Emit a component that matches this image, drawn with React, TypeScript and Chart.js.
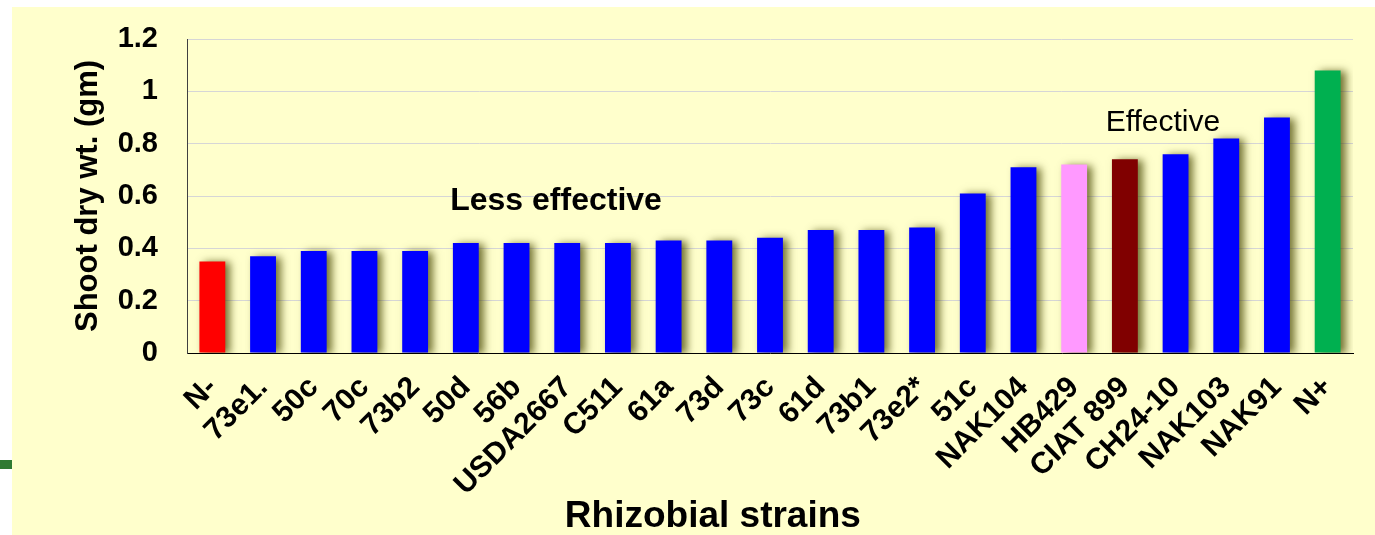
import React, { useEffect, useRef } from "react";
import { Chart, registerables } from "chart.js";

Chart.register(...registerables);

const categories = [
  "N-", "73e1.", "50c", "70c", "73b2", "50d", "56b", "USDA2667", "C511", "61a", "73d", "73c",
  "61d", "73b1", "73e2*", "51c", "NAK104", "HB429", "CIAT 899", "CH24-10", "NAK103", "NAK91", "N+",
];
const shootDryWt = [
  0.35, 0.37, 0.39, 0.39, 0.39, 0.42, 0.42, 0.42, 0.42, 0.43, 0.43, 0.44,
  0.47, 0.47, 0.48, 0.61, 0.71, 0.72, 0.74, 0.76, 0.82, 0.9, 1.08,
];
const RED = "#FF0000";
const BLUE = "#0000FF";
const PINK = "#FF99FF";
const MAROON = "#800000";
const GREEN = "#00B050";
const barColors = [
  RED, BLUE, BLUE, BLUE, BLUE, BLUE, BLUE, BLUE, BLUE, BLUE, BLUE, BLUE,
  BLUE, BLUE, BLUE, BLUE, BLUE, PINK, MAROON, BLUE, BLUE, BLUE, GREEN,
];
const yTicks = [0, 0.2, 0.4, 0.6, 0.8, 1, 1.2];
const yTitle = "Shoot dry wt. (gm)";
const xTitle = "Rhizobial strains";
const noteLess = "Less effective";
const noteEffective = "Effective";

const FONT = "Arial, 'Liberation Sans', sans-serif";

const decorPlugin = {
  id: "decor",
  beforeDatasetsDraw(chart: any) {
    const ctx = chart.ctx;
    ctx.save();
    ctx.shadowColor = "rgba(70,70,0,0.75)";
    ctx.shadowBlur = 8;
    ctx.shadowOffsetX = 5;
    ctx.shadowOffsetY = 1;
  },
  afterDatasetsDraw(chart: any) {
    chart.ctx.restore();
  },
  afterDraw(chart: any) {
    const ctx = chart.ctx;
    const { left, width } = chart.chartArea;
    const yScale = chart.scales.y;
    const xScale = chart.scales.x;
    ctx.save();
    ctx.fillStyle = "#000000";
    ctx.textBaseline = "alphabetic";
    ctx.textAlign = "center";
    // annotations
    ctx.font = `bold 32px ${FONT}`;
    ctx.fillText(noteLess, xScale.getPixelForValue(6.78), yScale.getPixelForValue(0.546));
    ctx.font = `30px ${FONT}`;
    ctx.fillText(noteEffective, xScale.getPixelForValue(18.75), yScale.getPixelForValue(0.85));
    // x axis title
    ctx.font = `bold 37px ${FONT}`;
    ctx.fillText(xTitle, left + width * 0.451, chart.height - 8);
    ctx.restore();
  },
};

export default function App() {
  const canvasRef = useRef<HTMLCanvasElement | null>(null);

  useEffect(() => {
    const canvas = canvasRef.current;
    if (!canvas) return;
    const chart = new Chart(canvas, {
      type: "bar",
      data: {
        labels: categories,
        datasets: [
          {
            data: shootDryWt,
            backgroundColor: barColors,
            borderWidth: 0,
            categoryPercentage: 1,
            barPercentage: 0.51,
          },
        ],
      },
      plugins: [decorPlugin],
      options: {
        responsive: false,
        animation: false,
        devicePixelRatio: 1,
        layout: { padding: { top: 39, right: 22, left: 0, bottom: 0 } },
        plugins: {
          legend: { display: false },
          tooltip: { enabled: false },
          title: { display: false },
        },
        scales: {
          x: {
            z: 1,
            grid: { display: false, drawTicks: false },
            border: { display: true, color: "#000000", width: 1 },
            ticks: {
              autoSkip: false,
              maxRotation: 45,
              minRotation: 45,
              padding: 17,
              color: "#000000",
              font: { family: FONT, size: 30, weight: "bold" },
            },
            afterFit(scale: any) {
              scale.height = 182;
            },
          },
          y: {
            min: 0,
            max: 1.2,
            grid: {
              color: "#D6D6D6",
              lineWidth: 1,
              drawTicks: true,
              tickLength: 29,
              tickColor: "rgba(0,0,0,0)",
            },
            border: { display: true, color: "#404040", width: 1 },
            afterBuildTicks(scale: any) {
              scale.ticks = yTicks.map((v) => ({ value: v }));
            },
            ticks: {
              padding: 0,
              color: "#000000",
              font: { family: FONT, size: 29, weight: "bold" },
              callback: (v: any) => String(Number(Number(v).toFixed(1))),
            },
            title: {
              display: true,
              text: yTitle,
              color: "#000000",
              font: { family: FONT, size: 31, weight: "bold", lineHeight: 1.2 },
              padding: { top: 70, bottom: 0 },
            },
            afterFit(scale: any) {
              scale.width = 187;
            },
          },
        },
      },
    });
    return () => chart.destroy();
  }, []);

  return (
    <div
      style={{
        position: "fixed",
        left: 0,
        top: 0,
        width: 1375,
        height: 535,
        background: "#FFFFFF",
        overflow: "hidden",
      }}
    >
      <div
        style={{
          position: "absolute",
          left: 12,
          top: 7,
          right: 0,
          bottom: 0,
          background: "#FFFFCC",
        }}
      />
      <div
        style={{
          position: "absolute",
          left: 0,
          top: 460,
          width: 12,
          height: 9,
          background: "#2F7A32",
        }}
      />
      <canvas
        ref={canvasRef}
        width={1375}
        height={535}
        style={{ position: "absolute", left: 0, top: 0, width: 1375, height: 535 }}
      />
    </div>
  );
}
